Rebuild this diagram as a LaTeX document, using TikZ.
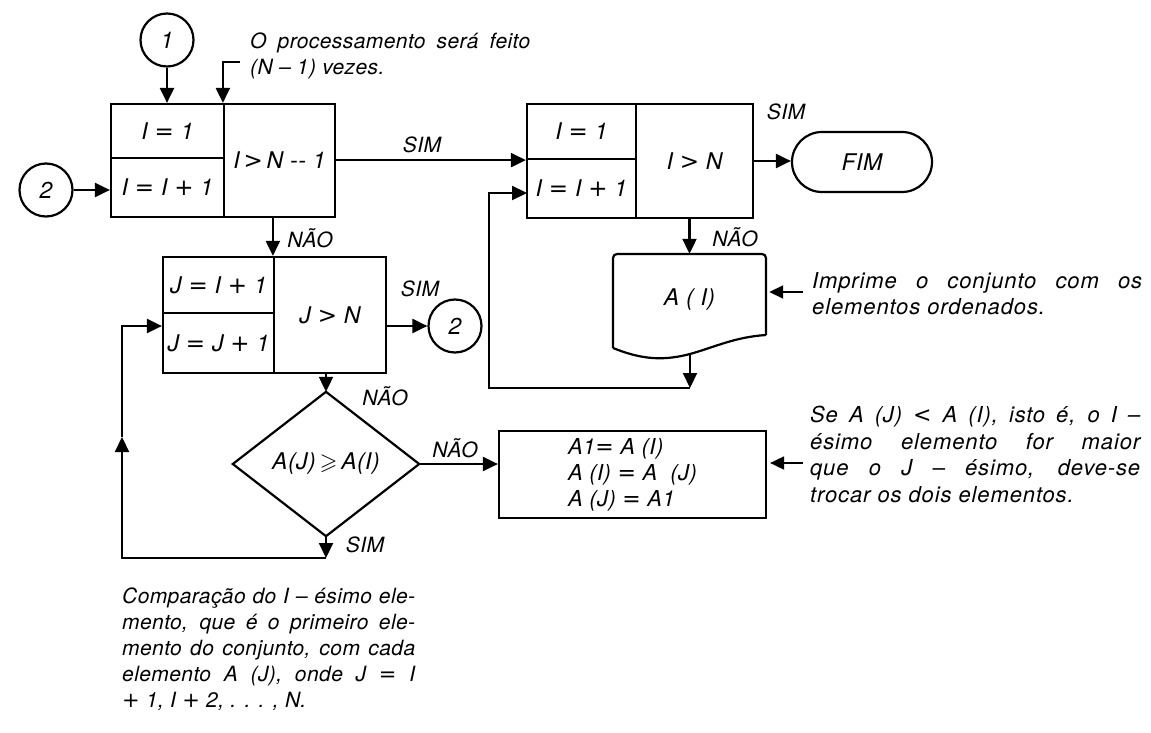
\documentclass[tikz,border=0pt]{standalone}
\usepackage{amssymb}
\usepackage{fontspec}
\usetikzlibrary{arrows.meta,shapes.misc}
\newfontfamily\hvf{TeX Gyre Heros}[LetterSpace=2]
\newfontfamily\hvw{TeX Gyre Heros}[LetterSpace=4]
\newfontfamily\djv{DejaVu Sans}
\newcommand\mEq{{\djv =}}
\newcommand\mPl{{\djv +}}
\newcommand\mGt{{\djv >}}
\newcommand\mLt{{\djv <}}
\newcommand\bxf{\hvf\itshape\fontsize{23}{27}\selectfont}
\newcommand\axf{\hvf\itshape\fontsize{22}{26}\selectfont}
\newcommand\lbf{\hvf\itshape\fontsize{21}{25}\selectfont}
\newcommand\ntf{\hvf\itshape\fontsize{21}{26}\selectfont}
\newcommand\nwf{\hvw\itshape\fontsize{22}{26.5}\selectfont}
\tikzset{
  ln/.style={line width=2.2pt},
  arr/.style={ln, -{Triangle[length=15pt,width=14pt]}},
  arrn/.style={line width=1.8pt, -{Triangle[length=14pt,width=13pt]}, shorten >=3pt},
  cell/.style={draw, ln, rectangle, inner sep=0pt, font=\bxf},
  conn/.style={draw, ln, circle, minimum size=53pt, inner sep=0pt, font=\bxf},
  lab/.style={font=\lbf, inner sep=0pt},
  note/.style={font=\ntf, align=left, inner sep=0pt},
  wnote/.style={font=\nwf, align=left, inner sep=0pt},
}
\begin{document}
\begin{tikzpicture}[x=1pt,y=-1pt]
\path[use as bounding box, fill=white] (0,0) rectangle (1151,733);
% ---- loop I, first box
\node[cell, minimum width=113pt, minimum height=54pt] (b1init) at (167.5,131) {I \mEq\ 1};
\node[cell, minimum width=113pt, minimum height=59pt] (b1inc) at (167.5,187.5) {I \mEq\ I \mPl\ 1};
\node[cell, minimum width=111pt, minimum height=113pt] (b1test) at (279.5,160.5) {I\,\mGt\,N -{}- 1};
\node[conn] (c1) at (167,40) {1};
\node[conn] (c2l) at (46,190) {2};
% ---- loop I, print box
\node[cell, minimum width=109pt, minimum height=55pt] (b2init) at (581.5,131.5) {I \mEq\ 1};
\node[cell, minimum width=109pt, minimum height=59pt] (b2inc) at (581.5,188.5) {I \mEq\ I \mPl\ 1};
\node[cell, minimum width=117pt, minimum height=114pt] (b2test) at (694.5,161) {I \mGt\ N};
\node[cell, rounded rectangle, minimum width=140pt, minimum height=60pt] (fim) at (862,162) {FIM};
% ---- document
\node[minimum width=153pt, minimum height=92pt, inner sep=0pt, font=\bxf] (doc) at (689.5,300) {A ( I)};
\draw[ln, rounded corners=4pt] (613,348) -- (613,254) -- (766,254) -- (766,335);
\draw[ln] (766,335) .. controls (735,337) and (715,347) .. (690,354) .. controls (660,362) and (638,358) .. (613,348);
% ---- loop J
\node[cell, minimum width=111pt, minimum height=56pt] (bjinit) at (218.5,285) {J \mEq\ I \mPl\ 1};
\node[cell, minimum width=111pt, minimum height=60pt] (bjinc) at (218.5,343) {J \mEq\ J \mPl\ 1};
\node[cell, minimum width=112pt, minimum height=116pt] (bjtest) at (330,315) {J \mGt\ N};
\node[conn] (c2r) at (455,326) {2};
% ---- decision
\node[minimum width=186pt, minimum height=144pt, inner sep=0pt, font=\bxf] (dia) at (326,464) {A(J)\,$\geqslant$\,A(I)};
\draw[ln] (dia.north) -- (dia.east) -- (dia.south) -- (dia.west) -- cycle;
% ---- swap box
\node[cell, minimum width=267pt, minimum height=87pt, align=left, font=\axf] (a1) at (632.5,474.5) {A1\mEq\ A (I)\\A (I) \mEq\ A\ \ (J)\\A (J) \mEq\ A1};
% ---- connectors
\draw[arr] (c1.south) -- (c1.south |- b1init.north);
\coordinate (k1) at (240,62);
\draw[arr] (k1) -- (k1 -| b1test.north west) -- (b1test.north west);
\draw[arr] (c2l.east) -- (c2l.east -| b1inc.west);
\draw[arr] (b1test.east |- b2init.south west) -- (b2init.south west);
\node[lab] (l1) at (422,145) {SIM};
\draw[arr] (b2test.east) -- (b2test.east -| fim.west);
\node[lab] (l2) at (786,112) {SIM};
\draw[arr] (doc.north |- b2test.south) -- (doc.north);
\node[lab] (l3) at (735,237) {NÃO};
\coordinate (docb) at (690,354);
\coordinate (jr) at (690,388);
\coordinate (jl) at (489,388);
\coordinate (in2) at (527,193);
\draw[arr] (docb) -- (jr);
\draw[arr] (jr) -- (jl) -- (jl |- in2) -- (in2);
\draw[arr] (bjtest.north west |- b1test.south) -- (bjtest.north west);
\node[lab] (l4) at (310,238) {NÃO};
\draw[arr] (c2r.west -| bjtest.east) -- (c2r.west);
\node[lab] (l5) at (420,289) {SIM};
\draw[arr] (dia.north |- bjtest.south) -- (dia.north);
\node[lab] (l6) at (385,396) {NÃO};
\draw[arr] (dia.east) -- (dia.east -| a1.west);
\node[lab] (l7) at (455,448) {NÃO};
\coordinate (sb) at (326,558);
\coordinate (lb) at (122,558);
\coordinate (lm) at (122,437);
\coordinate (lt) at (122,326);
\draw[arr] (dia.south) -- (sb);
\node[lab] (l8) at (365,545) {SIM};
\draw[arr] (sb) -- (lb) -- (lm);
\draw[arr] (lm) -- (lt) -- (lt -| bjinc.west);
% ---- annotations
\coordinate (k2) at (803,292);
\draw[arrn] (k2) -- (k2 -| doc.east);
\coordinate (k3) at (803,463);
\draw[arrn] (k3) -- (k3 -| a1.east);
\node[note, anchor=north west] (t1) at (250,33) {\makebox[280pt][s]{O processamento será feito}\\(N – 1) vezes.};
\node[wnote, anchor=north west] (t2) at (812,272) {\makebox[330pt][s]{Imprime o conjunto com os}\\elementos ordenados.};
\node[wnote, anchor=north west] (t3) at (810,406) {\makebox[330pt][s]{Se A (J) \mLt\ A (I), isto é, o I –}\\\makebox[330pt][s]{ésimo elemento for maior}\\\makebox[330pt][s]{que o J – ésimo, deve-se}\\trocar os dois elementos.};
\node[note, anchor=north west] (t4) at (122,588) {\makebox[293pt][s]{Comparação do I – ésimo ele-}\\\makebox[293pt][s]{mento, que é o primeiro ele-}\\\makebox[293pt][s]{mento do conjunto, com cada}\\\makebox[293pt][s]{elemento A (J), onde J \mEq\ I}\\\mPl\ 1, I \mPl\ 2, . . . , N.};
\end{tikzpicture}
\end{document}
